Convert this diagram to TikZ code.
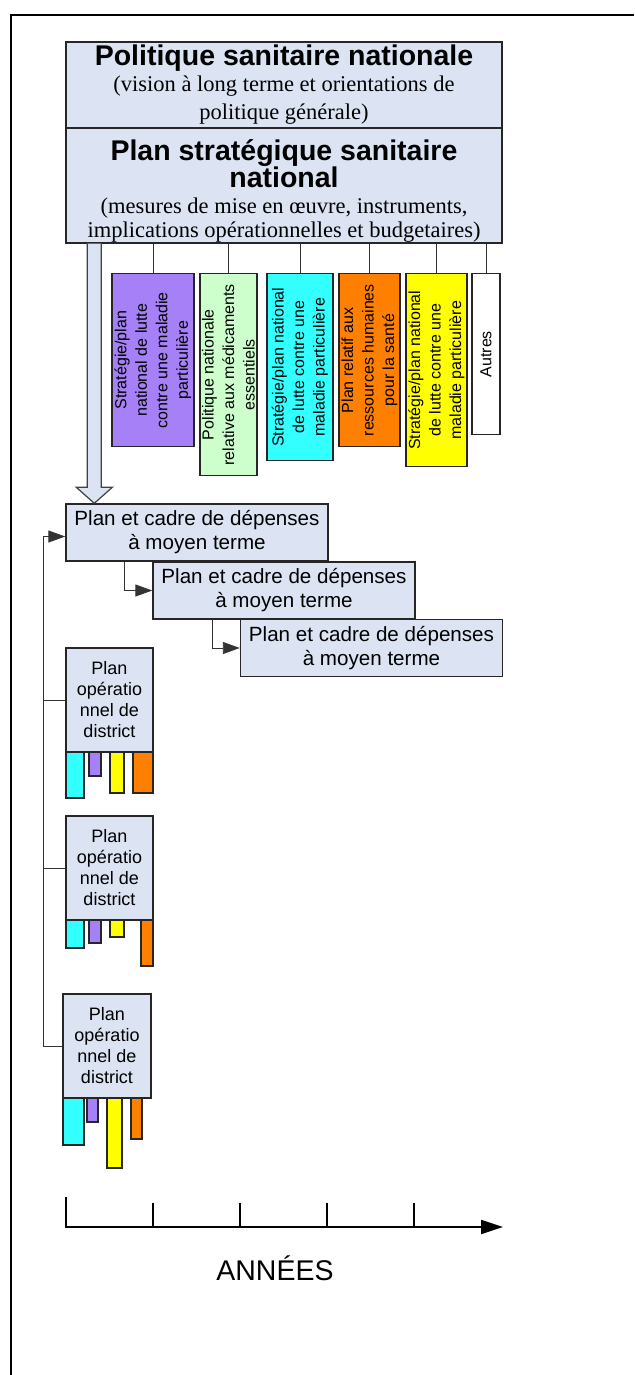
\documentclass[tikz,border=0pt]{standalone}
\usepackage{fontspec}
\setmainfont{Liberation Sans}
\newfontfamily\timesfnt{Liberation Serif}
\usetikzlibrary{arrows.meta,calc}
\definecolor{boxblue}{RGB}{220,228,244}
\definecolor{barpurple}{RGB}{165,128,246}
\definecolor{bargreen}{RGB}{204,255,204}
\definecolor{barcyan}{RGB}{51,255,255}
\definecolor{barorange}{RGB}{255,128,0}
\definecolor{baryellow}{RGB}{255,255,0}
\newcommand{\titlefnt}{\fontsize{28.5}{28}\selectfont\bfseries}
\newcommand{\notefnt}{\timesfnt\fontsize{22.5}{28}\selectfont}
\begin{document}
\begin{tikzpicture}[x=1pt,y=-1pt,
    bluebox/.style={draw=black!85, line width=1.4pt, fill=boxblue, align=center, inner sep=0pt},
    headbox/.style={bluebox, minimum width=436, font=\fontsize{22.5}{28}\selectfont},
    planbox/.style={bluebox, minimum width=262, minimum height=57, font=\fontsize{20.6}{24}\selectfont},
    distbox/.style={bluebox, minimum width=87, minimum height=104, font=\fontsize{18}{21}\selectfont},
    vbox/.style={draw=black!85, line width=1.4pt, rotate=90, anchor=east, align=center, inner sep=0pt, font=\fontsize{16}{20.5}\selectfont},
    bar/.style={draw=black!85, line width=1.2pt},
    link/.style={draw=black!80, line width=0.9pt},
    arr/.style={link, -{Triangle[length=17pt,width=12pt]}}]
\useasboundingbox (0,0) rectangle (634,1375);
\draw[line width=2pt] (11,1375) -- (11,15) -- (634,15);

\node[headbox, minimum height=86] (psn) at (284,85)
    {\titlefnt Politique sanitaire nationale\\[-2pt] \notefnt (vision à long terme et orientations de\\ \notefnt politique générale)};
\node[headbox, minimum height=115] (pss) at (284,185.5)
    {\rule{0pt}{31pt}\titlefnt Plan stratégique sanitaire\\[-1pt] \titlefnt national\\[-2pt] \notefnt (mesures de mise en œuvre, instruments,\\[-4pt] \notefnt implications opérationnelles et budgetaires)};

\node[vbox, fill=barpurple, minimum width=173, minimum height=82] (mal1) at (153,273) {Stratégie/plan\\national de lutte\\contre une maladie\\particulière};
\node[vbox, fill=bargreen, minimum width=202, minimum height=57] (med) at (228.5,273) {Politique nationale\\relative aux médicaments\\essentiels};
\node[vbox, fill=barcyan, minimum width=187, minimum height=66] (mal2) at (300,273) {Stratégie/plan national\\de lutte contre une\\maladie particulière};
\node[vbox, fill=barorange, minimum width=173, minimum height=61] (rhs) at (369.5,273) {Plan relatif aux\\ressources humaines\\pour la santé};
\node[vbox, fill=baryellow, minimum width=193, minimum height=61] (mal3) at (436.5,273) {Stratégie/plan national\\de lutte contre une\\maladie particulière};
\node[vbox, fill=white, minimum width=161, minimum height=28] (autres) at (486,273) {Autres};

\foreach \n in {mal1,med,mal2,rhs,mal3,autres}
    \draw[link] (pss.south -| \n.east) -- (\n.east);

\node[planbox] (pc1) at (197,532.5) {Plan et cadre de dépenses\\à moyen terme};
\node[planbox] (pc2) at (284,590.5) {Plan et cadre de dépenses\\à moyen terme};
\node[planbox] (pc3) at (371.5,648) {Plan et cadre de dépenses\\à moyen terme};

\filldraw[line width=1.2pt, draw=black!75, fill=boxblue]
    ($(pss.south west)+(22,0)$) -- ($(pc1.north west)+(22,-16)$) -- ($(pc1.north west)+(11,-16)$)
    -- ($(pc1.north west)+(29,0)$) -- ($(pc1.north west)+(47,-16)$) -- ($(pc1.north west)+(36,-16)$)
    -- ($(pss.south west)+(36,0)$);

\draw[arr] ($(pc1.south west)+(59,0)$) |- (pc2.west);
\draw[arr] ($(pc2.south west)+(60,0)$) |- (pc3.west);

\filldraw[bar, fill=barcyan] (66,752) rectangle (84,798);
\filldraw[bar, fill=barpurple] (89,752) rectangle (101,776);
\filldraw[bar, fill=baryellow] (110,752) rectangle (124,793);
\filldraw[bar, fill=barorange] (133,752) rectangle (153,793);

\filldraw[bar, fill=barcyan] (66,920) rectangle (84,948);
\filldraw[bar, fill=barpurple] (89,920) rectangle (101,943);
\filldraw[bar, fill=baryellow] (110,920) rectangle (124,937);
\filldraw[bar, fill=barorange] (141,920) rectangle (153,966);

\filldraw[bar, fill=barcyan] (63,1098) rectangle (84,1145);
\filldraw[bar, fill=barpurple] (87,1098) rectangle (98,1122);
\filldraw[bar, fill=baryellow] (107,1098) rectangle (122,1168);
\filldraw[bar, fill=barorange] (131,1098) rectangle (142,1139);

\node[distbox] (pod1) at (109.5,700) {Plan\\opératio\\nnel de\\district};
\node[distbox] (pod2) at (109.5,868) {Plan\\opératio\\nnel de\\district};
\node[distbox, minimum width=88] (pod3) at (107,1046) {Plan\\opératio\\nnel de\\district};

\coordinate (trunk) at (43,0);
\draw[link] (pod1.west) -- (pod1.west -| trunk);
\draw[link] (pod2.west) -- (pod2.west -| trunk);
\draw[arr] (pod3.west) -| ($(trunk |- pc1.west)+(0,4)$) -- ($(pc1.west)+(0,4)$);

\draw[line width=2pt, -{Triangle[length=22pt,width=14pt]}] (66,1227) -- (503,1227);
\draw[line width=1.8pt] (66,1228) -- (66,1197);
\foreach \x in {153,240,327,414}
    \draw[line width=1.6pt] (\x,1227) -- (\x,1203);
\node[font=\fontsize{28.5}{30}\selectfont] (annees) at (275,1268) {ANNÉES};
\end{tikzpicture}
\end{document}
